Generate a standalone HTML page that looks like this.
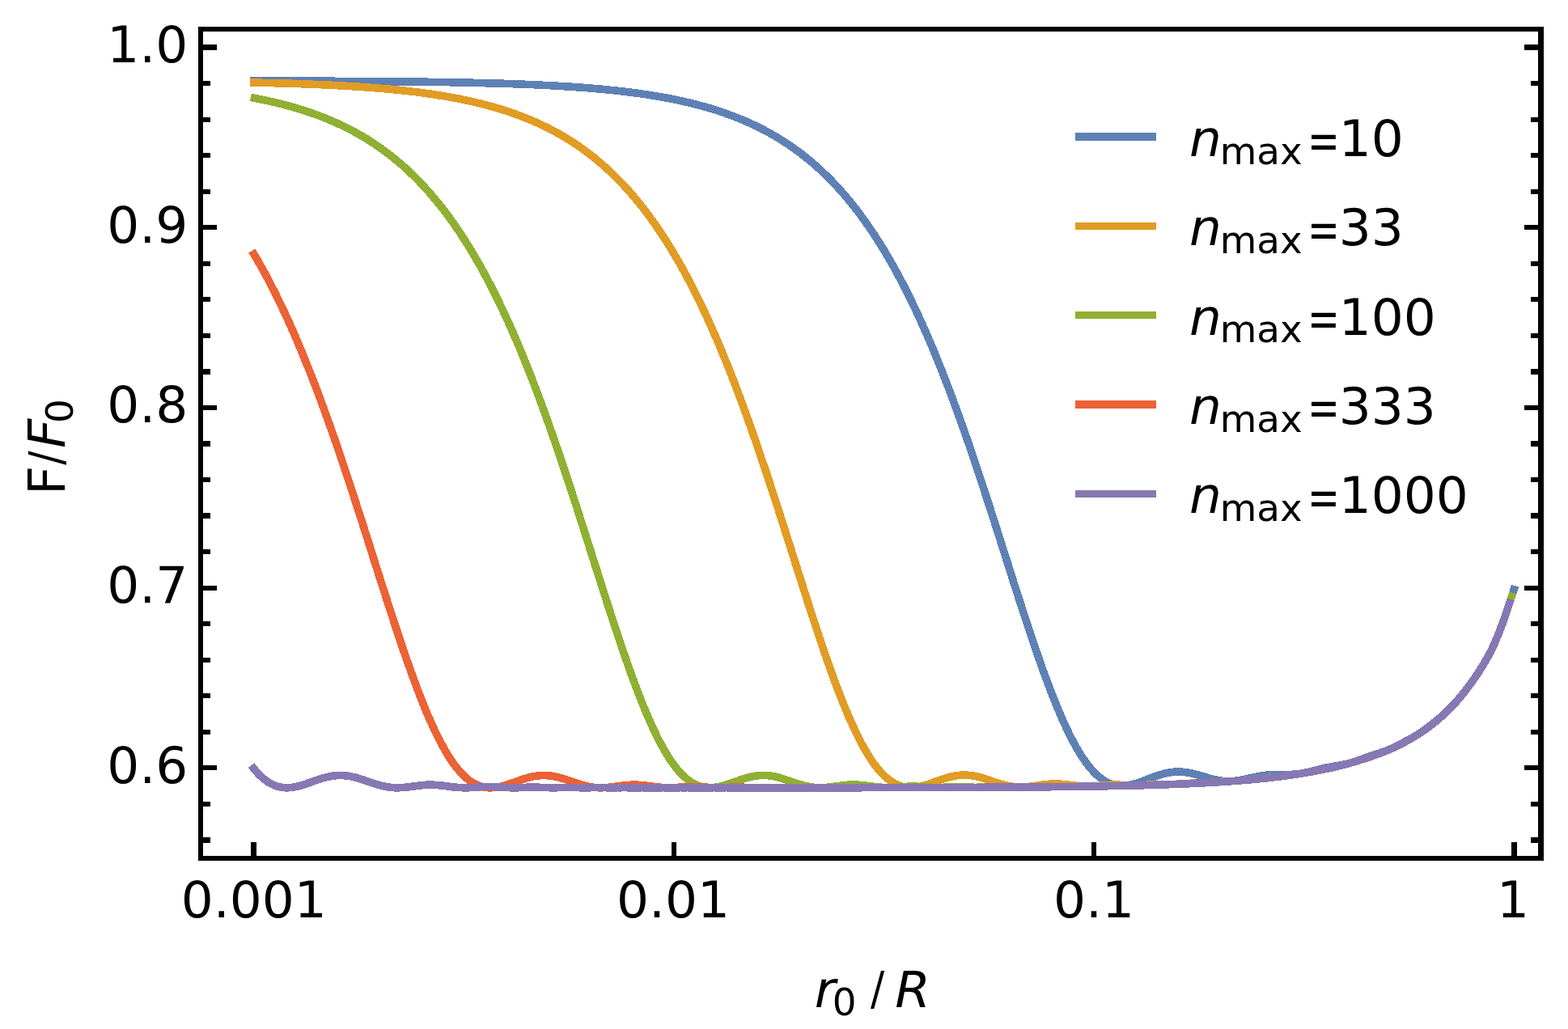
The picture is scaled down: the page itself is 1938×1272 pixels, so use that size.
<!DOCTYPE html>
<html lang="en"><head><meta charset="utf-8"><title>F/F0 versus r0/R</title>
<style>html,body{margin:0;padding:0;background:#fff;}svg{display:block;}text{font-family:"DejaVu Sans", "Liberation Sans", sans-serif;fill:#000;}</style>
</head><body>
<svg width="1938" height="1272" viewBox="0 0 1938 1272" role="img" aria-label="F/F0 versus r0/R for several n_max">
<rect x="0" y="0" width="1938" height="1272" fill="#fff"/>
<g fill="none" stroke-width="9.6" stroke-linejoin="round" stroke-linecap="butt" shape-rendering="crispEdges">
<path d="M309.0 99.9 L312.7 99.9 L316.5 99.9 L320.2 99.9 L323.9 100.0 L327.7 100.0 L331.4 100.0 L335.1 100.0 L338.9 100.0 L342.6 100.0 L346.3 100.0 L350.0 100.0 L353.8 100.0 L357.5 100.0 L361.2 100.1 L365.0 100.1 L368.7 100.1 L372.4 100.1 L376.2 100.1 L379.9 100.1 L383.6 100.1 L387.4 100.1 L391.1 100.2 L394.8 100.2 L398.6 100.2 L402.3 100.2 L406.0 100.2 L409.8 100.2 L413.5 100.3 L417.2 100.3 L421.0 100.3 L424.7 100.3 L428.4 100.3 L432.1 100.4 L435.9 100.4 L439.6 100.4 L443.3 100.4 L447.1 100.5 L450.8 100.5 L454.5 100.5 L458.3 100.5 L462.0 100.6 L465.7 100.6 L469.5 100.6 L473.2 100.7 L476.9 100.7 L480.7 100.7 L484.4 100.8 L488.1 100.8 L491.9 100.8 L495.6 100.9 L499.3 100.9 L503.1 101.0 L506.8 101.0 L510.5 101.0 L514.2 101.1 L518.0 101.1 L521.7 101.2 L525.4 101.2 L529.2 101.3 L532.9 101.3 L536.6 101.4 L540.4 101.4 L544.1 101.5 L547.8 101.6 L551.6 101.6 L555.3 101.7 L559.0 101.8 L562.8 101.8 L566.5 101.9 L570.2 102.0 L574.0 102.1 L577.7 102.1 L581.4 102.2 L585.1 102.3 L588.9 102.4 L592.6 102.5 L596.3 102.6 L600.1 102.7 L603.8 102.8 L607.5 102.9 L611.3 103.0 L615.0 103.1 L618.7 103.2 L622.5 103.3 L626.2 103.4 L629.9 103.6 L633.7 103.7 L637.4 103.8 L641.1 104.0 L644.9 104.1 L648.6 104.3 L652.3 104.4 L656.1 104.6 L659.8 104.7 L663.5 104.9 L667.2 105.1 L671.0 105.3 L674.7 105.4 L678.4 105.6 L682.2 105.8 L685.9 106.0 L689.6 106.3 L693.4 106.5 L697.1 106.7 L700.8 106.9 L704.6 107.2 L708.3 107.4 L712.0 107.7 L715.8 108.0 L719.5 108.2 L723.2 108.5 L727.0 108.8 L730.7 109.1 L734.4 109.4 L738.2 109.8 L741.9 110.1 L745.6 110.4 L749.3 110.8 L753.1 111.2 L756.8 111.6 L760.5 112.0 L764.3 112.4 L768.0 112.8 L771.7 113.2 L775.5 113.7 L779.2 114.1 L782.9 114.6 L786.7 115.1 L790.4 115.6 L794.1 116.2 L797.9 116.7 L801.6 117.3 L805.3 117.9 L809.1 118.5 L812.8 119.1 L816.5 119.8 L820.2 120.4 L824.0 121.1 L827.7 121.8 L831.4 122.6 L835.2 123.3 L838.9 124.1 L842.6 124.9 L846.4 125.8 L850.1 126.6 L853.8 127.5 L857.6 128.4 L861.3 129.4 L865.0 130.4 L868.8 131.4 L872.5 132.4 L876.2 133.5 L880.0 134.6 L883.7 135.8 L887.4 137.0 L891.2 138.2 L894.9 139.5 L898.6 140.8 L902.3 142.2 L906.1 143.6 L909.8 145.0 L913.5 146.5 L917.3 148.0 L921.0 149.6 L924.7 151.3 L928.5 152.9 L932.2 154.7 L935.9 156.5 L939.7 158.3 L943.4 160.3 L947.1 162.2 L950.9 164.3 L954.6 166.4 L958.3 168.5 L962.1 170.8 L965.8 173.1 L969.5 175.5 L973.3 177.9 L977.0 180.4 L980.7 183.0 L984.4 185.7 L988.2 188.5 L991.9 191.3 L995.6 194.3 L999.4 197.3 L1003.1 200.4 L1006.8 203.6 L1010.6 206.9 L1014.3 210.4 L1018.0 213.9 L1021.8 217.5 L1025.5 221.2 L1029.2 225.0 L1033.0 229.0 L1036.7 233.0 L1040.4 237.2 L1044.2 241.5 L1047.9 245.9 L1051.6 250.4 L1055.3 255.1 L1059.1 259.9 L1062.8 264.8 L1066.5 269.9 L1070.3 275.1 L1074.0 280.5 L1077.7 286.0 L1081.5 291.6 L1085.2 297.4 L1088.9 303.3 L1092.7 309.4 L1096.4 315.7 L1100.1 322.1 L1103.9 328.7 L1107.6 335.4 L1111.3 342.3 L1115.1 349.4 L1118.8 356.6 L1122.5 364.0 L1126.3 371.6 L1130.0 379.4 L1133.7 387.3 L1137.4 395.4 L1141.2 403.7 L1144.9 412.2 L1148.6 420.8 L1152.4 429.6 L1156.1 438.6 L1159.8 447.7 L1163.6 457.1 L1167.3 466.6 L1171.0 476.2 L1174.8 486.1 L1178.5 496.1 L1182.2 506.2 L1186.0 516.5 L1189.7 527.0 L1193.4 537.6 L1197.2 548.3 L1200.9 559.2 L1204.6 570.2 L1208.3 581.4 L1212.1 592.6 L1215.8 604.0 L1219.5 615.4 L1223.3 626.9 L1227.0 638.5 L1230.7 650.1 L1234.5 661.8 L1238.2 673.6 L1241.9 685.3 L1245.7 697.1 L1249.4 708.8 L1253.1 720.5 L1256.9 732.2 L1260.6 743.8 L1264.3 755.3 L1268.1 766.7 L1271.8 778.0 L1275.5 789.2 L1279.3 800.2 L1283.0 811.0 L1286.7 821.7 L1290.4 832.1 L1294.2 842.2 L1297.9 852.1 L1301.6 861.7 L1305.4 871.0 L1309.1 880.0 L1312.8 888.6 L1316.6 896.9 L1320.3 904.8 L1324.0 912.3 L1327.8 919.3 L1331.5 926.0 L1335.2 932.2 L1339.0 937.9 L1342.7 943.2 L1346.4 948.0 L1350.2 952.4 L1353.9 956.3 L1357.6 959.7 L1361.4 962.6 L1365.1 965.1 L1368.8 967.2 L1372.5 968.8 L1376.3 970.0 L1380.0 970.8 L1383.7 971.2 L1387.5 971.3 L1391.2 971.1 L1394.9 970.6 L1398.7 969.9 L1402.4 968.9 L1406.1 967.8 L1409.9 966.5 L1413.6 965.1 L1417.3 963.7 L1421.1 962.3 L1424.8 960.9 L1428.5 959.5 L1432.3 958.2 L1436.0 957.1 L1439.7 956.1 L1443.4 955.3 L1447.2 954.7 L1450.9 954.2 L1454.6 954.0 L1458.4 954.1 L1462.1 954.3 L1465.8 954.7 L1469.6 955.3 L1473.3 956.1 L1477.0 957.0 L1480.8 958.0 L1484.5 959.0 L1488.2 960.1 L1492.0 961.2 L1495.7 962.3 L1499.4 963.2 L1503.2 964.1 L1506.9 964.7 L1510.6 965.3 L1514.4 965.6 L1518.1 965.7 L1521.8 965.6 L1525.5 965.4 L1529.3 965.0 L1533.0 964.4 L1536.7 963.7 L1540.5 962.9 L1544.2 962.0 L1547.9 961.2 L1551.7 960.4 L1555.4 959.6 L1559.1 959.0 L1562.9 958.5 L1566.6 958.0 L1570.3 957.8 L1574.1 957.6 L1577.8 957.5 L1581.5 957.5 L1585.3 957.5 L1589.0 957.5 L1592.7 957.5 L1596.5 957.4 L1600.2 957.1 L1603.9 956.8 L1607.6 956.2 L1611.4 955.6 L1615.1 954.8 L1618.8 954.0 L1622.6 953.0 L1626.3 952.1 L1630.0 951.1 L1633.8 950.2 L1637.5 949.4 L1641.2 948.6 L1645.0 948.0 L1648.7 947.3 L1652.4 946.7 L1656.2 946.1 L1659.9 945.3 L1663.6 944.5 L1667.4 943.6 L1671.1 942.5 L1674.8 941.3 L1678.5 940.1 L1682.3 938.7 L1686.0 937.4 L1689.7 936.1 L1693.5 934.8 L1697.2 933.6 L1700.9 932.4 L1704.7 931.2 L1708.4 929.9 L1712.1 928.5 L1715.9 927.0 L1719.6 925.4 L1723.3 923.6 L1727.1 921.8 L1730.8 919.8 L1734.5 917.9 L1738.3 915.9 L1742.0 913.9 L1745.7 911.8 L1749.5 909.6 L1753.2 907.4 L1756.9 904.9 L1760.6 902.3 L1764.4 899.6 L1768.1 896.7 L1771.8 893.7 L1775.6 890.7 L1779.3 887.6 L1783.0 884.4 L1786.8 880.9 L1790.5 877.3 L1794.2 873.4 L1798.0 869.4 L1801.7 865.2 L1805.4 860.8 L1809.2 856.2 L1812.9 851.5 L1816.6 846.6 L1820.4 841.4 L1824.1 836.0 L1827.8 830.3 L1831.6 824.4 L1835.3 818.2 L1839.0 811.9 L1842.7 805.0 L1846.5 797.0 L1850.2 788.3 L1853.9 779.0 L1857.7 769.1 L1861.4 758.2 L1865.1 746.9 L1868.9 735.8 L1872.6 724.2" stroke="#5E81B5"/>
<path d="M309.0 102.0 L312.7 102.1 L316.4 102.2 L320.2 102.2 L323.9 102.3 L327.6 102.4 L331.3 102.5 L335.1 102.6 L338.8 102.7 L342.5 102.8 L346.2 102.9 L350.0 103.0 L353.7 103.1 L357.4 103.2 L361.1 103.3 L364.9 103.5 L368.6 103.6 L372.3 103.7 L376.0 103.9 L379.8 104.0 L383.5 104.1 L387.2 104.3 L390.9 104.4 L394.7 104.6 L398.4 104.8 L402.1 104.9 L405.8 105.1 L409.6 105.3 L413.3 105.5 L417.0 105.7 L420.7 105.9 L424.5 106.1 L428.2 106.3 L431.9 106.5 L435.6 106.7 L439.4 107.0 L443.1 107.2 L446.8 107.5 L450.5 107.7 L454.2 108.0 L458.0 108.3 L461.7 108.6 L465.4 108.9 L469.1 109.2 L472.9 109.5 L476.6 109.8 L480.3 110.1 L484.0 110.5 L487.8 110.9 L491.5 111.2 L495.2 111.6 L498.9 112.0 L502.7 112.4 L506.4 112.9 L510.1 113.3 L513.8 113.7 L517.6 114.2 L521.3 114.7 L525.0 115.2 L528.7 115.7 L532.5 116.2 L536.2 116.8 L539.9 117.4 L543.6 118.0 L547.4 118.6 L551.1 119.2 L554.8 119.8 L558.5 120.5 L562.3 121.2 L566.0 121.9 L569.7 122.6 L573.4 123.4 L577.2 124.2 L580.9 125.0 L584.6 125.8 L588.3 126.7 L592.1 127.6 L595.8 128.5 L599.5 129.5 L603.2 130.5 L606.9 131.5 L610.7 132.5 L614.4 133.6 L618.1 134.7 L621.8 135.9 L625.6 137.1 L629.3 138.3 L633.0 139.6 L636.7 140.9 L640.5 142.3 L644.2 143.7 L647.9 145.1 L651.6 146.6 L655.4 148.1 L659.1 149.7 L662.8 151.4 L666.5 153.0 L670.3 154.8 L674.0 156.6 L677.7 158.4 L681.4 160.4 L685.2 162.3 L688.9 164.4 L692.6 166.5 L696.3 168.6 L700.1 170.9 L703.8 173.2 L707.5 175.5 L711.2 178.0 L715.0 180.5 L718.7 183.1 L722.4 185.8 L726.1 188.6 L729.9 191.4 L733.6 194.3 L737.3 197.4 L741.0 200.5 L744.7 203.7 L748.5 207.0 L752.2 210.4 L755.9 213.9 L759.6 217.5 L763.4 221.2 L767.1 225.1 L770.8 229.0 L774.5 233.0 L778.3 237.2 L782.0 241.5 L785.7 245.9 L789.4 250.4 L793.2 255.1 L796.9 259.9 L800.6 264.8 L804.3 269.9 L808.1 275.1 L811.8 280.4 L815.5 285.9 L819.2 291.5 L823.0 297.3 L826.7 303.2 L830.4 309.3 L834.1 315.5 L837.9 321.9 L841.6 328.5 L845.3 335.2 L849.0 342.1 L852.8 349.1 L856.5 356.4 L860.2 363.8 L863.9 371.3 L867.7 379.1 L871.4 387.0 L875.1 395.0 L878.8 403.3 L882.5 411.7 L886.3 420.3 L890.0 429.1 L893.7 438.1 L897.4 447.2 L901.2 456.5 L904.9 466.0 L908.6 475.6 L912.3 485.5 L916.1 495.4 L919.8 505.6 L923.5 515.9 L927.2 526.3 L931.0 536.9 L934.7 547.6 L938.4 558.5 L942.1 569.5 L945.9 580.6 L949.6 591.8 L953.3 603.1 L957.0 614.5 L960.8 626.0 L964.5 637.6 L968.2 649.2 L971.9 660.9 L975.7 672.6 L979.4 684.4 L983.1 696.1 L986.8 707.9 L990.6 719.6 L994.3 731.3 L998.0 742.9 L1001.7 754.4 L1005.5 765.9 L1009.2 777.2 L1012.9 788.4 L1016.6 799.4 L1020.3 810.3 L1024.1 820.9 L1027.8 831.4 L1031.5 841.6 L1035.2 851.6 L1039.0 861.2 L1042.7 870.6 L1046.4 879.7 L1050.1 888.4 L1053.9 896.7 L1057.6 904.7 L1061.3 912.3 L1065.0 919.4 L1068.8 926.2 L1072.5 932.5 L1076.2 938.4 L1079.9 943.8 L1083.7 948.7 L1087.4 953.2 L1091.1 957.2 L1094.8 960.8 L1098.6 963.8 L1102.3 966.5 L1106.0 968.7 L1109.7 970.4 L1113.5 971.8 L1117.2 972.7 L1120.9 973.3 L1124.6 973.5 L1128.4 973.5 L1132.1 973.1 L1135.8 972.5 L1139.5 971.6 L1143.3 970.6 L1147.0 969.5 L1150.7 968.2 L1154.4 966.9 L1158.2 965.6 L1161.9 964.2 L1165.6 963.0 L1169.3 961.8 L1173.0 960.7 L1176.8 959.8 L1180.5 959.1 L1184.2 958.5 L1187.9 958.2 L1191.7 958.1 L1195.4 958.2 L1199.1 958.5 L1202.8 959.0 L1206.6 959.7 L1210.3 960.6 L1214.0 961.6 L1217.7 962.8 L1221.5 964.0 L1225.2 965.2 L1228.9 966.5 L1232.6 967.8 L1236.4 968.9 L1240.1 970.0 L1243.8 970.9 L1247.5 971.7 L1251.3 972.3 L1255.0 972.7 L1258.7 972.9 L1262.4 973.0 L1266.2 972.9 L1269.9 972.6 L1273.6 972.2 L1277.3 971.7 L1281.1 971.2 L1284.8 970.6 L1288.5 970.1 L1292.2 969.7 L1296.0 969.3 L1299.7 969.1 L1303.4 969.0 L1307.1 969.0 L1310.8 969.2 L1314.6 969.5 L1318.3 969.9 L1322.0 970.3 L1325.7 970.8 L1329.5 971.2 L1333.2 971.6 L1336.9 971.9 L1340.6 972.1 L1344.4 972.1 L1348.1 972.0 L1351.8 971.9 L1355.5 971.6 L1359.3 971.3 L1363.0 970.9 L1366.7 970.6 L1370.4 970.4 L1374.2 970.2 L1377.9 970.2 L1381.6 970.2 L1385.3 970.3 L1389.1 970.5 L1392.8 970.6 L1396.5 970.8 L1400.2 970.9 L1404.0 970.9 L1407.7 970.9 L1411.4 970.7 L1415.1 970.5 L1418.9 970.2 L1422.6 969.9 L1426.3 969.7 L1430.0 969.5 L1433.8 969.4 L1437.5 969.4 L1441.2 969.4 L1444.9 969.5 L1448.6 969.5 L1452.4 969.4 L1456.1 969.3 L1459.8 969.1 L1463.5 968.8 L1467.3 968.5 L1471.0 968.3 L1474.7 968.1 L1478.4 967.9 L1482.2 967.8 L1485.9 967.8 L1489.6 967.7 L1493.3 967.5 L1497.1 967.3 L1500.8 967.0 L1504.5 966.7 L1508.2 966.4 L1512.0 966.1 L1515.7 965.9 L1519.4 965.7 L1523.1 965.5 L1526.9 965.3 L1530.6 965.0 L1534.3 964.6 L1538.0 964.3 L1541.8 963.9 L1545.5 963.6 L1549.2 963.3 L1552.9 963.0 L1556.7 962.7 L1560.4 962.3 L1564.1 961.9 L1567.8 961.4 L1571.6 961.0 L1575.3 960.6 L1579.0 960.2 L1582.7 959.8 L1586.4 959.3 L1590.2 958.7 L1593.9 958.2 L1597.6 957.7 L1601.3 957.2 L1605.1 956.6 L1608.8 956.1 L1612.5 955.4 L1616.2 954.8 L1620.0 954.1 L1623.7 953.5 L1627.4 952.8 L1631.1 952.1 L1634.9 951.3 L1638.6 950.5 L1642.3 949.8 L1646.0 948.9 L1649.8 948.1 L1653.5 947.2 L1657.2 946.2 L1660.9 945.3 L1664.7 944.3 L1668.4 943.3 L1672.1 942.2 L1675.8 941.1 L1679.6 940.0 L1683.3 938.8 L1687.0 937.6 L1690.7 936.4 L1694.5 935.2 L1698.2 933.8 L1701.9 932.5 L1705.6 931.1 L1709.4 929.7 L1713.1 928.2 L1716.8 926.6 L1720.5 925.0 L1724.3 923.3 L1728.0 921.5 L1731.7 919.7 L1735.4 917.8 L1739.1 915.7 L1742.9 913.6 L1746.6 911.5 L1750.3 909.2 L1754.0 906.8 L1757.8 904.3 L1761.5 901.8 L1765.2 899.1 L1768.9 896.3 L1772.7 893.3 L1776.4 890.2 L1780.1 887.0 L1783.8 883.7 L1787.6 880.2 L1791.3 876.5 L1795.0 872.7 L1798.7 868.6 L1802.5 864.4 L1806.2 860.0 L1809.9 855.4 L1813.6 850.6 L1817.4 845.6 L1821.1 840.4 L1824.8 835.0 L1828.5 829.3 L1832.3 823.3 L1836.0 817.1 L1839.7 810.7 L1843.4 803.6 L1847.2 795.5 L1850.9 786.7 L1854.6 777.3 L1858.3 767.3 L1862.1 756.3 L1865.8 745.0 L1869.5 733.9" stroke="#E19C24"/>
<path d="M309.9 120.4 L313.6 121.1 L317.3 121.8 L321.1 122.6 L324.8 123.3 L328.5 124.1 L332.2 124.9 L336.0 125.8 L339.7 126.6 L343.4 127.5 L347.1 128.4 L350.9 129.4 L354.6 130.4 L358.3 131.4 L362.0 132.4 L365.7 133.5 L369.5 134.6 L373.2 135.8 L376.9 137.0 L380.6 138.2 L384.4 139.5 L388.1 140.8 L391.8 142.1 L395.5 143.5 L399.3 145.0 L403.0 146.4 L406.7 148.0 L410.4 149.6 L414.1 151.2 L417.9 152.9 L421.6 154.6 L425.3 156.4 L429.0 158.3 L432.8 160.2 L436.5 162.1 L440.2 164.2 L443.9 166.2 L447.7 168.4 L451.4 170.6 L455.1 172.9 L458.8 175.3 L462.5 177.7 L466.3 180.3 L470.0 182.8 L473.7 185.5 L477.4 188.3 L481.2 191.1 L484.9 194.0 L488.6 197.0 L492.3 200.2 L496.1 203.3 L499.8 206.6 L503.5 210.0 L507.2 213.5 L511.0 217.1 L514.7 220.8 L518.4 224.6 L522.1 228.6 L525.8 232.6 L529.6 236.7 L533.3 241.0 L537.0 245.4 L540.7 249.9 L544.5 254.6 L548.2 259.3 L551.9 264.2 L555.6 269.3 L559.4 274.5 L563.1 279.8 L566.8 285.2 L570.5 290.9 L574.2 296.6 L578.0 302.5 L581.7 308.6 L585.4 314.8 L589.1 321.2 L592.9 327.7 L596.6 334.4 L600.3 341.3 L604.0 348.3 L607.8 355.5 L611.5 362.9 L615.2 370.4 L618.9 378.1 L622.6 386.0 L626.4 394.1 L630.1 402.3 L633.8 410.7 L637.5 419.3 L641.3 428.1 L645.0 437.0 L648.7 446.1 L652.4 455.4 L656.2 464.9 L659.9 474.5 L663.6 484.3 L667.3 494.2 L671.0 504.3 L674.8 514.6 L678.5 525.0 L682.2 535.6 L685.9 546.3 L689.7 557.1 L693.4 568.1 L697.1 579.2 L700.8 590.4 L704.6 601.7 L708.3 613.1 L712.0 624.6 L715.7 636.2 L719.4 647.8 L723.2 659.5 L726.9 671.2 L730.6 682.9 L734.3 694.7 L738.1 706.4 L741.8 718.1 L745.5 729.8 L749.2 741.4 L753.0 753.0 L756.7 764.4 L760.4 775.8 L764.1 787.0 L767.8 798.0 L771.6 808.9 L775.3 819.6 L779.0 830.1 L782.7 840.3 L786.5 850.3 L790.2 860.0 L793.9 869.5 L797.6 878.6 L801.4 887.3 L805.1 895.7 L808.8 903.7 L812.5 911.4 L816.2 918.6 L820.0 925.4 L823.7 931.8 L827.4 937.7 L831.1 943.2 L834.9 948.2 L838.6 952.8 L842.3 956.8 L846.0 960.5 L849.8 963.6 L853.5 966.3 L857.2 968.6 L860.9 970.4 L864.6 971.8 L868.4 972.8 L872.1 973.5 L875.8 973.7 L879.5 973.7 L883.3 973.4 L887.0 972.8 L890.7 972.0 L894.4 971.0 L898.2 969.9 L901.9 968.7 L905.6 967.4 L909.3 966.0 L913.1 964.7 L916.8 963.4 L920.5 962.3 L924.2 961.2 L927.9 960.3 L931.7 959.5 L935.4 959.0 L939.1 958.6 L942.8 958.5 L946.6 958.5 L950.3 958.8 L954.0 959.3 L957.7 960.0 L961.5 960.9 L965.2 961.9 L968.9 963.1 L972.6 964.3 L976.3 965.6 L980.1 966.9 L983.8 968.1 L987.5 969.3 L991.2 970.4 L995.0 971.4 L998.7 972.2 L1002.4 972.9 L1006.1 973.3 L1009.9 973.6 L1013.6 973.7 L1017.3 973.6 L1021.0 973.4 L1024.7 973.0 L1028.5 972.6 L1032.2 972.1 L1035.9 971.6 L1039.6 971.1 L1043.4 970.7 L1047.1 970.3 L1050.8 970.1 L1054.5 970.0 L1058.3 970.1 L1062.0 970.3 L1065.7 970.6 L1069.4 971.0 L1073.1 971.5 L1076.9 972.0 L1080.6 972.4 L1084.3 972.9 L1088.0 973.2 L1091.8 973.5 L1095.5 973.6 L1099.2 973.6 L1102.9 973.5 L1106.7 973.3 L1110.4 973.0 L1114.1 972.8 L1117.8 972.5 L1121.5 972.3 L1125.3 972.2 L1129.0 972.2 L1132.7 972.2 L1136.4 972.4 L1140.2 972.6 L1143.9 972.9 L1147.6 973.1 L1151.3 973.3 L1155.1 973.4 L1158.8 973.5 L1162.5 973.4 L1166.2 973.3 L1169.9 973.1 L1173.7 972.9 L1177.4 972.8 L1181.1 972.7 L1184.8 972.7 L1188.6 972.8 L1192.3 972.9 L1196.0 973.1 L1199.7 973.2 L1203.5 973.3 L1207.2 973.3 L1210.9 973.2 L1214.6 973.1 L1218.3 973.0 L1222.1 972.9 L1225.8 972.8 L1229.5 972.8 L1233.2 972.9 L1237.0 973.0 L1240.7 973.1 L1244.4 973.1 L1248.1 973.1 L1251.9 973.0 L1255.6 972.9 L1259.3 972.8 L1263.0 972.7 L1266.7 972.8 L1270.5 972.8 L1274.2 972.9 L1277.9 972.9 L1281.6 972.8 L1285.4 972.7 L1289.1 972.7 L1292.8 972.6 L1296.5 972.6 L1300.3 972.6 L1304.0 972.6 L1307.7 972.6 L1311.4 972.5 L1315.2 972.4 L1318.9 972.4 L1322.6 972.3 L1326.3 972.3 L1330.0 972.3 L1333.8 972.3 L1337.5 972.2 L1341.2 972.1 L1344.9 972.0 L1348.7 972.0 L1352.4 972.0 L1356.1 971.9 L1359.8 971.9 L1363.6 971.8 L1367.3 971.7 L1371.0 971.6 L1374.7 971.6 L1378.4 971.5 L1382.2 971.4 L1385.9 971.3 L1389.6 971.3 L1393.3 971.2 L1397.1 971.1 L1400.8 971.0 L1404.5 970.9 L1408.2 970.8 L1412.0 970.7 L1415.7 970.6 L1419.4 970.5 L1423.1 970.4 L1426.8 970.3 L1430.6 970.2 L1434.3 970.1 L1438.0 969.9 L1441.7 969.8 L1445.5 969.7 L1449.2 969.5 L1452.9 969.4 L1456.6 969.2 L1460.4 969.1 L1464.1 968.9 L1467.8 968.8 L1471.5 968.6 L1475.2 968.4 L1479.0 968.2 L1482.7 968.1 L1486.4 967.9 L1490.1 967.7 L1493.9 967.5 L1497.6 967.2 L1501.3 967.0 L1505.0 966.8 L1508.8 966.6 L1512.5 966.3 L1516.2 966.1 L1519.9 965.8 L1523.6 965.5 L1527.4 965.3 L1531.1 965.0 L1534.8 964.7 L1538.5 964.4 L1542.3 964.0 L1546.0 963.7 L1549.7 963.4 L1553.4 963.0 L1557.2 962.6 L1560.9 962.3 L1564.6 961.9 L1568.3 961.5 L1572.0 961.1 L1575.8 960.6 L1579.5 960.2 L1583.2 959.7 L1586.9 959.2 L1590.7 958.7 L1594.4 958.2 L1598.1 957.7 L1601.8 957.1 L1605.6 956.6 L1609.3 956.0 L1613.0 955.4 L1616.7 954.7 L1620.4 954.1 L1624.2 953.4 L1627.9 952.7 L1631.6 952.0 L1635.3 951.2 L1639.1 950.5 L1642.8 949.7 L1646.5 948.8 L1650.2 948.0 L1654.0 947.1 L1657.7 946.2 L1661.4 945.2 L1665.1 944.2 L1668.8 943.2 L1672.6 942.1 L1676.3 941.0 L1680.0 939.9 L1683.7 938.7 L1687.5 937.5 L1691.2 936.3 L1694.9 935.0 L1698.6 933.7 L1702.4 932.3 L1706.1 931.0 L1709.8 929.5 L1713.5 928.0 L1717.3 926.4 L1721.0 924.8 L1724.7 923.1 L1728.4 921.3 L1732.1 919.5 L1735.9 917.5 L1739.6 915.5 L1743.3 913.4 L1747.0 911.2 L1750.8 908.9 L1754.5 906.5 L1758.2 904.0 L1761.9 901.5 L1765.7 898.7 L1769.4 895.9 L1773.1 893.0 L1776.8 889.9 L1780.5 886.7 L1784.3 883.3 L1788.0 879.8 L1791.7 876.1 L1795.4 872.2 L1799.2 868.2 L1802.9 863.9 L1806.6 859.5 L1810.3 854.9 L1814.1 850.0 L1817.8 845.0 L1821.5 839.8 L1825.2 834.3 L1828.9 828.6 L1832.7 822.6 L1836.4 816.4 L1840.1 810.0 L1843.8 802.8 L1847.6 794.6 L1851.3 785.7 L1855.0 776.3 L1858.7 766.2 L1862.5 755.1 L1866.2 743.8 L1869.9 732.7" stroke="#8FB032"/>
<path d="M311.4 310.0 L315.1 316.2 L318.8 322.6 L322.5 329.2 L326.3 335.9 L330.0 342.8 L333.7 349.8 L337.4 357.0 L341.1 364.4 L344.8 372.0 L348.5 379.7 L352.2 387.6 L356.0 395.7 L359.7 403.9 L363.4 412.3 L367.1 420.9 L370.8 429.7 L374.5 438.6 L378.2 447.8 L381.9 457.0 L385.7 466.5 L389.4 476.1 L393.1 485.9 L396.8 495.9 L400.5 506.0 L404.2 516.2 L407.9 526.6 L411.6 537.2 L415.4 547.9 L419.1 558.7 L422.8 569.7 L426.5 580.8 L430.2 592.0 L433.9 603.2 L437.6 614.6 L441.3 626.1 L445.1 637.6 L448.8 649.2 L452.5 660.9 L456.2 672.6 L459.9 684.3 L463.6 696.0 L467.3 707.7 L471.0 719.4 L474.8 731.0 L478.5 742.6 L482.2 754.1 L485.9 765.5 L489.6 776.8 L493.3 788.0 L497.0 799.0 L500.7 809.8 L504.5 820.5 L508.2 830.9 L511.9 841.1 L515.6 851.1 L519.3 860.7 L523.0 870.1 L526.7 879.1 L530.4 887.8 L534.2 896.2 L537.9 904.2 L541.6 911.8 L545.3 919.0 L549.0 925.7 L552.7 932.1 L556.4 938.0 L560.1 943.4 L563.9 948.4 L567.6 952.9 L571.3 957.0 L575.0 960.6 L578.7 963.7 L582.4 966.4 L586.1 968.6 L589.8 970.4 L593.6 971.8 L597.3 972.8 L601.0 973.5 L604.7 973.8 L608.4 973.7 L612.1 973.4 L615.8 972.8 L619.5 972.0 L623.3 971.1 L627.0 969.9 L630.7 968.7 L634.4 967.4 L638.1 966.1 L641.8 964.8 L645.5 963.5 L649.3 962.3 L653.0 961.3 L656.7 960.3 L660.4 959.6 L664.1 959.0 L667.8 958.7 L671.5 958.5 L675.2 958.6 L679.0 958.9 L682.7 959.3 L686.4 960.0 L690.1 960.9 L693.8 961.9 L697.5 963.0 L701.2 964.3 L704.9 965.5 L708.7 966.8 L712.4 968.1 L716.1 969.3 L719.8 970.4 L723.5 971.4 L727.2 972.2 L730.9 972.9 L734.6 973.4 L738.4 973.7 L742.1 973.8 L745.8 973.7 L749.5 973.5 L753.2 973.2 L756.9 972.7 L760.6 972.3 L764.3 971.7 L768.1 971.3 L771.8 970.8 L775.5 970.5 L779.2 970.3 L782.9 970.2 L786.6 970.2 L790.3 970.4 L794.0 970.7 L797.8 971.1 L801.5 971.5 L805.2 972.0 L808.9 972.5 L812.6 973.0 L816.3 973.3 L820.0 973.6 L823.7 973.7 L827.5 973.8 L831.2 973.7 L834.9 973.5 L838.6 973.3 L842.3 973.0 L846.0 972.7 L849.7 972.5 L853.4 972.4 L857.2 972.4 L860.9 972.4 L864.6 972.6 L868.3 972.8 L872.0 973.1 L875.7 973.4 L879.4 973.6 L883.1 973.7 L886.9 973.8 L890.6 973.7 L894.3 973.6 L898.0 973.5 L901.7 973.3 L905.4 973.2 L909.1 973.1 L912.8 973.1 L916.6 973.2 L920.3 973.3 L924.0 973.5 L927.7 973.6 L931.4 973.7 L935.1 973.8 L938.8 973.7 L942.6 973.6 L946.3 973.5 L950.0 973.4 L953.7 973.4 L957.4 973.4 L961.1 973.5 L964.8 973.6 L968.5 973.7 L972.3 973.7 L976.0 973.7 L979.7 973.7 L983.4 973.6 L987.1 973.5 L990.8 973.5 L994.5 973.5 L998.2 973.6 L1002.0 973.7 L1005.7 973.7 L1009.4 973.7 L1013.1 973.7 L1016.8 973.6 L1020.5 973.6 L1024.2 973.5 L1027.9 973.6 L1031.7 973.6 L1035.4 973.7 L1039.1 973.7 L1042.8 973.6 L1046.5 973.6 L1050.2 973.6 L1053.9 973.6 L1057.6 973.6 L1061.4 973.7 L1065.1 973.7 L1068.8 973.6 L1072.5 973.6 L1076.2 973.6 L1079.9 973.6 L1083.6 973.6 L1087.3 973.6 L1091.1 973.6 L1094.8 973.6 L1098.5 973.6 L1102.2 973.6 L1105.9 973.6 L1109.6 973.6 L1113.3 973.5 L1117.0 973.5 L1120.8 973.5 L1124.5 973.6 L1128.2 973.5 L1131.9 973.5 L1135.6 973.5 L1139.3 973.5 L1143.0 973.5 L1146.7 973.5 L1150.5 973.5 L1154.2 973.5 L1157.9 973.5 L1161.6 973.5 L1165.3 973.4 L1169.0 973.4 L1172.7 973.4 L1176.4 973.4 L1180.2 973.4 L1183.9 973.4 L1187.6 973.4 L1191.3 973.4 L1195.0 973.3 L1198.7 973.3 L1202.4 973.3 L1206.1 973.3 L1209.9 973.3 L1213.6 973.3 L1217.3 973.3 L1221.0 973.2 L1224.7 973.2 L1228.4 973.2 L1232.1 973.2 L1235.8 973.2 L1239.6 973.1 L1243.3 973.1 L1247.0 973.1 L1250.7 973.1 L1254.4 973.0 L1258.1 973.0 L1261.8 973.0 L1265.6 973.0 L1269.3 972.9 L1273.0 972.9 L1276.7 972.9 L1280.4 972.8 L1284.1 972.8 L1287.8 972.8 L1291.5 972.7 L1295.3 972.7 L1299.0 972.7 L1302.7 972.6 L1306.4 972.6 L1310.1 972.6 L1313.8 972.5 L1317.5 972.5 L1321.2 972.4 L1325.0 972.4 L1328.7 972.3 L1332.4 972.3 L1336.1 972.2 L1339.8 972.2 L1343.5 972.1 L1347.2 972.1 L1350.9 972.0 L1354.7 972.0 L1358.4 971.9 L1362.1 971.8 L1365.8 971.8 L1369.5 971.7 L1373.2 971.6 L1376.9 971.6 L1380.6 971.5 L1384.4 971.4 L1388.1 971.3 L1391.8 971.2 L1395.5 971.2 L1399.2 971.1 L1402.9 971.0 L1406.6 970.9 L1410.3 970.8 L1414.1 970.7 L1417.8 970.6 L1421.5 970.5 L1425.2 970.4 L1428.9 970.2 L1432.6 970.1 L1436.3 970.0 L1440.0 969.9 L1443.8 969.7 L1447.5 969.6 L1451.2 969.5 L1454.9 969.3 L1458.6 969.2 L1462.3 969.0 L1466.0 968.9 L1469.7 968.7 L1473.5 968.5 L1477.2 968.3 L1480.9 968.2 L1484.6 968.0 L1488.3 967.8 L1492.0 967.6 L1495.7 967.4 L1499.4 967.1 L1503.2 966.9 L1506.9 966.7 L1510.6 966.4 L1514.3 966.2 L1518.0 965.9 L1521.7 965.7 L1525.4 965.4 L1529.1 965.1 L1532.9 964.8 L1536.6 964.5 L1540.3 964.2 L1544.0 963.9 L1547.7 963.6 L1551.4 963.2 L1555.1 962.8 L1558.9 962.5 L1562.6 962.1 L1566.3 961.7 L1570.0 961.3 L1573.7 960.9 L1577.4 960.4 L1581.1 960.0 L1584.8 959.5 L1588.6 959.0 L1592.3 958.5 L1596.0 958.0 L1599.7 957.5 L1603.4 956.9 L1607.1 956.3 L1610.8 955.7 L1614.5 955.1 L1618.3 954.5 L1622.0 953.8 L1625.7 953.1 L1629.4 952.4 L1633.1 951.7 L1636.8 950.9 L1640.5 950.2 L1644.2 949.3 L1648.0 948.5 L1651.7 947.6 L1655.4 946.7 L1659.1 945.8 L1662.8 944.8 L1666.5 943.8 L1670.2 942.8 L1673.9 941.7 L1677.7 940.6 L1681.4 939.4 L1685.1 938.3 L1688.8 937.1 L1692.5 935.8 L1696.2 934.5 L1699.9 933.2 L1703.6 931.9 L1707.4 930.5 L1711.1 929.0 L1714.8 927.5 L1718.5 925.9 L1722.2 924.3 L1725.9 922.5 L1729.6 920.7 L1733.3 918.8 L1737.1 916.9 L1740.8 914.8 L1744.5 912.7 L1748.2 910.5 L1751.9 908.2 L1755.6 905.8 L1759.3 903.3 L1763.0 900.7 L1766.8 897.9 L1770.5 895.1 L1774.2 892.1 L1777.9 889.0 L1781.6 885.7 L1785.3 882.3 L1789.0 878.8 L1792.7 875.0 L1796.5 871.1 L1800.2 867.0 L1803.9 862.8 L1807.6 858.3 L1811.3 853.6 L1815.0 848.8 L1818.7 843.7 L1822.4 838.4 L1826.2 832.9 L1829.9 827.2 L1833.6 821.1 L1837.3 814.9 L1841.0 808.4 L1844.7 800.9 L1848.4 792.6 L1852.1 783.6 L1855.9 774.0 L1859.6 763.7 L1863.3 752.6 L1867.0 741.3" stroke="#EB6235"/>
<path d="M310.5 946.1 L314.2 950.8 L317.9 955.1 L321.6 958.9 L325.4 962.3 L329.1 965.2 L332.8 967.6 L336.5 969.6 L340.2 971.2 L343.9 972.4 L347.7 973.2 L351.4 973.7 L355.1 973.8 L358.8 973.6 L362.5 973.1 L366.2 972.4 L369.9 971.6 L373.7 970.5 L377.4 969.3 L381.1 968.0 L384.8 966.7 L388.5 965.4 L392.2 964.1 L396.0 962.9 L399.7 961.7 L403.4 960.7 L407.1 959.9 L410.8 959.3 L414.5 958.8 L418.2 958.5 L422.0 958.5 L425.7 958.7 L429.4 959.1 L433.1 959.7 L436.8 960.5 L440.5 961.4 L444.2 962.5 L448.0 963.7 L451.7 965.0 L455.4 966.2 L459.1 967.5 L462.8 968.8 L466.5 969.9 L470.3 971.0 L474.0 971.9 L477.7 972.6 L481.4 973.2 L485.1 973.6 L488.8 973.8 L492.5 973.8 L496.3 973.6 L500.0 973.3 L503.7 973.0 L507.4 972.5 L511.1 972.0 L514.8 971.5 L518.6 971.0 L522.3 970.6 L526.0 970.3 L529.7 970.2 L533.4 970.2 L537.1 970.3 L540.8 970.5 L544.6 970.9 L548.3 971.3 L552.0 971.8 L555.7 972.3 L559.4 972.8 L563.1 973.2 L566.9 973.5 L570.6 973.7 L574.3 973.8 L578.0 973.8 L581.7 973.6 L585.4 973.4 L589.1 973.1 L592.9 972.9 L596.6 972.6 L600.3 972.5 L604.0 972.4 L607.7 972.4 L611.4 972.6 L615.2 972.8 L618.9 973.0 L622.6 973.3 L626.3 973.5 L630.0 973.7 L633.7 973.8 L637.4 973.8 L641.2 973.7 L644.9 973.6 L648.6 973.4 L652.3 973.2 L656.0 973.1 L659.7 973.1 L663.5 973.2 L667.2 973.3 L670.9 973.4 L674.6 973.6 L678.3 973.7 L682.0 973.8 L685.7 973.8 L689.5 973.7 L693.2 973.6 L696.9 973.5 L700.6 973.4 L704.3 973.4 L708.0 973.5 L711.7 973.6 L715.5 973.7 L719.2 973.8 L722.9 973.8 L726.6 973.8 L730.3 973.7 L734.0 973.6 L737.8 973.6 L741.5 973.6 L745.2 973.6 L748.9 973.7 L752.6 973.8 L756.3 973.8 L760.0 973.8 L763.8 973.7 L767.5 973.7 L771.2 973.6 L774.9 973.7 L778.6 973.7 L782.3 973.8 L786.1 973.8 L789.8 973.8 L793.5 973.7 L797.2 973.7 L800.9 973.7 L804.6 973.7 L808.3 973.8 L812.1 973.8 L815.8 973.8 L819.5 973.7 L823.2 973.7 L826.9 973.7 L830.6 973.8 L834.4 973.8 L838.1 973.8 L841.8 973.7 L845.5 973.7 L849.2 973.7 L852.9 973.8 L856.6 973.8 L860.4 973.8 L864.1 973.7 L867.8 973.7 L871.5 973.8 L875.2 973.8 L878.9 973.8 L882.7 973.7 L886.4 973.7 L890.1 973.8 L893.8 973.8 L897.5 973.7 L901.2 973.7 L904.9 973.7 L908.7 973.8 L912.4 973.8 L916.1 973.7 L919.8 973.7 L923.5 973.8 L927.2 973.7 L931.0 973.7 L934.7 973.7 L938.4 973.8 L942.1 973.7 L945.8 973.7 L949.5 973.7 L953.2 973.7 L957.0 973.7 L960.7 973.7 L964.4 973.7 L968.1 973.7 L971.8 973.7 L975.5 973.7 L979.2 973.7 L983.0 973.7 L986.7 973.7 L990.4 973.7 L994.1 973.7 L997.8 973.7 L1001.5 973.7 L1005.3 973.7 L1009.0 973.7 L1012.7 973.7 L1016.4 973.7 L1020.1 973.7 L1023.8 973.7 L1027.5 973.7 L1031.3 973.7 L1035.0 973.7 L1038.7 973.7 L1042.4 973.7 L1046.1 973.7 L1049.8 973.7 L1053.6 973.7 L1057.3 973.7 L1061.0 973.7 L1064.7 973.7 L1068.4 973.6 L1072.1 973.6 L1075.8 973.6 L1079.6 973.6 L1083.3 973.6 L1087.0 973.6 L1090.7 973.6 L1094.4 973.6 L1098.1 973.6 L1101.9 973.6 L1105.6 973.6 L1109.3 973.6 L1113.0 973.6 L1116.7 973.6 L1120.4 973.6 L1124.1 973.6 L1127.9 973.6 L1131.6 973.5 L1135.3 973.5 L1139.0 973.5 L1142.7 973.5 L1146.4 973.5 L1150.2 973.5 L1153.9 973.5 L1157.6 973.5 L1161.3 973.5 L1165.0 973.5 L1168.7 973.4 L1172.4 973.4 L1176.2 973.4 L1179.9 973.4 L1183.6 973.4 L1187.3 973.4 L1191.0 973.4 L1194.7 973.4 L1198.5 973.3 L1202.2 973.3 L1205.9 973.3 L1209.6 973.3 L1213.3 973.3 L1217.0 973.3 L1220.7 973.2 L1224.5 973.2 L1228.2 973.2 L1231.9 973.2 L1235.6 973.2 L1239.3 973.1 L1243.0 973.1 L1246.7 973.1 L1250.5 973.1 L1254.2 973.0 L1257.9 973.0 L1261.6 973.0 L1265.3 973.0 L1269.0 972.9 L1272.8 972.9 L1276.5 972.9 L1280.2 972.8 L1283.9 972.8 L1287.6 972.8 L1291.3 972.8 L1295.0 972.7 L1298.8 972.7 L1302.5 972.6 L1306.2 972.6 L1309.9 972.6 L1313.6 972.5 L1317.3 972.5 L1321.1 972.4 L1324.8 972.4 L1328.5 972.3 L1332.2 972.3 L1335.9 972.2 L1339.6 972.2 L1343.3 972.1 L1347.1 972.1 L1350.8 972.0 L1354.5 972.0 L1358.2 971.9 L1361.9 971.8 L1365.6 971.8 L1369.4 971.7 L1373.1 971.6 L1376.8 971.6 L1380.5 971.5 L1384.2 971.4 L1387.9 971.3 L1391.6 971.2 L1395.4 971.2 L1399.1 971.1 L1402.8 971.0 L1406.5 970.9 L1410.2 970.8 L1413.9 970.7 L1417.7 970.6 L1421.4 970.5 L1425.1 970.4 L1428.8 970.2 L1432.5 970.1 L1436.2 970.0 L1439.9 969.9 L1443.7 969.7 L1447.4 969.6 L1451.1 969.5 L1454.8 969.3 L1458.5 969.2 L1462.2 969.0 L1466.0 968.9 L1469.7 968.7 L1473.4 968.5 L1477.1 968.3 L1480.8 968.2 L1484.5 968.0 L1488.2 967.8 L1492.0 967.6 L1495.7 967.4 L1499.4 967.1 L1503.1 966.9 L1506.8 966.7 L1510.5 966.4 L1514.2 966.2 L1518.0 965.9 L1521.7 965.7 L1525.4 965.4 L1529.1 965.1 L1532.8 964.8 L1536.5 964.5 L1540.3 964.2 L1544.0 963.9 L1547.7 963.6 L1551.4 963.2 L1555.1 962.9 L1558.8 962.5 L1562.5 962.1 L1566.3 961.7 L1570.0 961.3 L1573.7 960.9 L1577.4 960.4 L1581.1 960.0 L1584.8 959.5 L1588.6 959.0 L1592.3 958.5 L1596.0 958.0 L1599.7 957.5 L1603.4 956.9 L1607.1 956.3 L1610.8 955.7 L1614.6 955.1 L1618.3 954.5 L1622.0 953.8 L1625.7 953.1 L1629.4 952.4 L1633.1 951.7 L1636.9 950.9 L1640.6 950.1 L1644.3 949.3 L1648.0 948.5 L1651.7 947.6 L1655.4 946.7 L1659.1 945.8 L1662.9 944.8 L1666.6 943.8 L1670.3 942.8 L1674.0 941.7 L1677.7 940.6 L1681.4 939.4 L1685.2 938.2 L1688.9 937.0 L1692.6 935.8 L1696.3 934.5 L1700.0 933.2 L1703.7 931.8 L1707.4 930.4 L1711.2 929.0 L1714.9 927.5 L1718.6 925.9 L1722.3 924.2 L1726.0 922.5 L1729.7 920.7 L1733.5 918.8 L1737.2 916.8 L1740.9 914.8 L1744.6 912.6 L1748.3 910.4 L1752.0 908.1 L1755.7 905.7 L1759.5 903.2 L1763.2 900.6 L1766.9 897.8 L1770.6 895.0 L1774.3 892.0 L1778.0 888.9 L1781.7 885.6 L1785.5 882.2 L1789.2 878.6 L1792.9 874.9 L1796.6 871.0 L1800.3 866.9 L1804.0 862.6 L1807.8 858.1 L1811.5 853.4 L1815.2 848.5 L1818.9 843.5 L1822.6 838.2 L1826.3 832.7 L1830.0 826.9 L1833.8 820.8 L1837.5 814.6 L1841.2 808.0 L1844.9 800.5 L1848.6 792.1 L1852.3 783.1 L1856.1 773.5 L1859.8 763.1 L1863.5 752.0 L1867.2 740.7" stroke="#8778B3"/>
</g>
<g fill="#000" shape-rendering="crispEdges">
<rect x="245" y="33" width="6" height="1031"/>
<rect x="1901" y="33" width="7" height="1031"/>
<rect x="245" y="33" width="1663" height="6"/>
<rect x="245" y="1058" width="1663" height="6"/>
<rect x="251" y="55" width="17" height="7"/>
<rect x="1884" y="55" width="17" height="7"/>
<rect x="251" y="100" width="9" height="6"/>
<rect x="1892" y="100" width="9" height="6"/>
<rect x="251" y="145" width="9" height="6"/>
<rect x="1892" y="145" width="9" height="6"/>
<rect x="251" y="189" width="9" height="6"/>
<rect x="1892" y="189" width="9" height="6"/>
<rect x="251" y="234" width="9" height="6"/>
<rect x="1892" y="234" width="9" height="6"/>
<rect x="251" y="278" width="17" height="6"/>
<rect x="1884" y="278" width="17" height="6"/>
<rect x="251" y="323" width="9" height="6"/>
<rect x="1892" y="323" width="9" height="6"/>
<rect x="251" y="367" width="9" height="6"/>
<rect x="1892" y="367" width="9" height="6"/>
<rect x="251" y="412" width="9" height="6"/>
<rect x="1892" y="412" width="9" height="6"/>
<rect x="251" y="456" width="9" height="7"/>
<rect x="1892" y="456" width="9" height="7"/>
<rect x="251" y="501" width="17" height="6"/>
<rect x="1884" y="501" width="17" height="6"/>
<rect x="251" y="545" width="9" height="7"/>
<rect x="1892" y="545" width="9" height="7"/>
<rect x="251" y="590" width="9" height="6"/>
<rect x="1892" y="590" width="9" height="6"/>
<rect x="251" y="634" width="9" height="7"/>
<rect x="1892" y="634" width="9" height="7"/>
<rect x="251" y="679" width="9" height="6"/>
<rect x="1892" y="679" width="9" height="6"/>
<rect x="251" y="724" width="17" height="6"/>
<rect x="1884" y="724" width="17" height="6"/>
<rect x="251" y="768" width="9" height="6"/>
<rect x="1892" y="768" width="9" height="6"/>
<rect x="251" y="813" width="9" height="6"/>
<rect x="1892" y="813" width="9" height="6"/>
<rect x="251" y="857" width="9" height="6"/>
<rect x="1892" y="857" width="9" height="6"/>
<rect x="251" y="902" width="9" height="6"/>
<rect x="1892" y="902" width="9" height="6"/>
<rect x="251" y="946" width="17" height="6"/>
<rect x="1884" y="946" width="17" height="6"/>
<rect x="251" y="991" width="9" height="6"/>
<rect x="1892" y="991" width="9" height="6"/>
<rect x="251" y="1035" width="9" height="7"/>
<rect x="1892" y="1035" width="9" height="7"/>
<rect x="310" y="1041" width="7" height="17"/>
<rect x="830" y="1041" width="6" height="17"/>
<rect x="1349" y="1041" width="6" height="17"/>
<rect x="1868" y="1041" width="7" height="17"/>
</g>
<g font-size="62.90">
<text x="232.2" y="77.0" text-anchor="end">1.0</text>
<text x="232.2" y="300.0" text-anchor="end">0.9</text>
<text x="232.2" y="522.0" text-anchor="end">0.8</text>
<text x="232.2" y="745.0" text-anchor="end">0.7</text>
<text x="232.2" y="968.0" text-anchor="end">0.6</text>
<text x="313.8" y="1134" text-anchor="middle">0.001</text>
<text x="832.0" y="1134" text-anchor="middle">0.01</text>
<text x="1352.0" y="1134" text-anchor="middle">0.1</text>
<text x="1870.1" y="1134" text-anchor="middle">1</text>
</g>
<g transform="translate(79.8,611.9) rotate(-90)">
<text x="0.0" y="0.0" font-size="62.90">F</text>
<text transform="translate(37.1,-2.7) scale(0.81,0.915)" font-size="62.90">/</text>
<text x="57.8" y="0.0" font-size="62.90" font-style="oblique">F</text>
<text x="88.9" y="10.6" font-size="46.80">0</text>
</g>
<text x="1006.8" y="1244.7" font-size="62.90" font-style="oblique">r</text>
<text x="1028.7" y="1255.2" font-size="46.80">0</text>
<text transform="translate(1075.9,1242.0) scale(0.81,0.915)" font-size="62.90">/</text>
<text x="1106.3" y="1244.7" font-size="62.90" font-style="oblique">R</text>
<rect x="1329" y="164" width="100" height="10" fill="#5E81B5" shape-rendering="crispEdges"/>
<text x="1469.9" y="193.0" font-size="62.90" font-style="oblique">n</text>
<text x="1507.7" y="202.8" font-size="46.80">max</text>
<text transform="translate(1616.0,195.6) scale(0.757,1.03)" font-size="62.90">=</text>
<text x="1654.8" y="193.0" font-size="62.90">10</text>
<rect x="1329" y="275" width="100" height="9" fill="#E19C24" shape-rendering="crispEdges"/>
<text x="1469.9" y="303.3" font-size="62.90" font-style="oblique">n</text>
<text x="1507.7" y="313.1" font-size="46.80">max</text>
<text transform="translate(1616.0,305.9) scale(0.757,1.03)" font-size="62.90">=</text>
<text x="1654.8" y="303.3" font-size="62.90">33</text>
<rect x="1329" y="385" width="100" height="9" fill="#8FB032" shape-rendering="crispEdges"/>
<text x="1469.9" y="413.5" font-size="62.90" font-style="oblique">n</text>
<text x="1507.7" y="423.3" font-size="46.80">max</text>
<text transform="translate(1616.0,416.1) scale(0.757,1.03)" font-size="62.90">=</text>
<text x="1654.8" y="413.5" font-size="62.90">100</text>
<rect x="1329" y="495" width="100" height="10" fill="#EB6235" shape-rendering="crispEdges"/>
<text x="1469.9" y="523.8" font-size="62.90" font-style="oblique">n</text>
<text x="1507.7" y="533.6" font-size="46.80">max</text>
<text transform="translate(1616.0,526.4) scale(0.757,1.03)" font-size="62.90">=</text>
<text x="1654.8" y="523.8" font-size="62.90">333</text>
<rect x="1329" y="606" width="100" height="9" fill="#8778B3" shape-rendering="crispEdges"/>
<text x="1469.9" y="634.1" font-size="62.90" font-style="oblique">n</text>
<text x="1507.7" y="643.9" font-size="46.80">max</text>
<text transform="translate(1616.0,636.7) scale(0.757,1.03)" font-size="62.90">=</text>
<text x="1654.8" y="634.1" font-size="62.90">1000</text>
</svg></body></html>
